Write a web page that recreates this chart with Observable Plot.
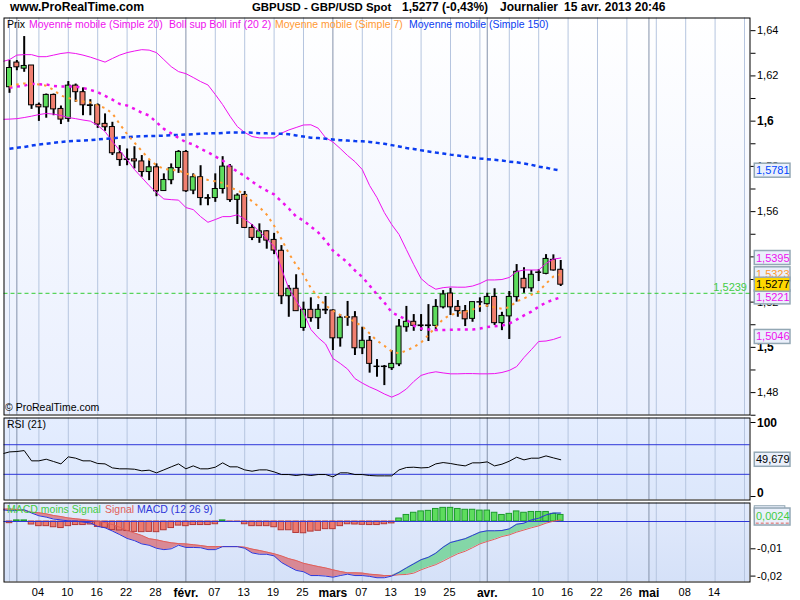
<!DOCTYPE html>
<html><head><meta charset="utf-8">
<script src="https://cdn.jsdelivr.net/npm/d3@7"></script>
<script src="https://cdn.jsdelivr.net/npm/@observablehq/plot@0.6"></script>
<style>
html,body{margin:0;padding:0;background:#fff}
#page{position:relative;width:800px;height:600px;overflow:hidden;background:#fff;font-family:"Liberation Sans",Arial,sans-serif}
.bg{position:absolute;left:4px;width:745px}
.t{position:absolute;white-space:nowrap;font-size:10.5px;line-height:13px}
.b{font-weight:bold;font-size:12px;color:#000}
#page svg{position:absolute;left:0;overflow:visible}
</style></head><body><div id="page">
<div class="bg" style="top:18px;height:396px;background:linear-gradient(#ffffff,#e9effe)"></div>
<div class="bg" style="top:418px;height:81px;background:linear-gradient(#e4edff,#dce7fb)"></div>
<div class="bg" style="top:503px;height:78px;background:linear-gradient(#e2eafc,#d5e1f8)"></div>
<div class="t b" style="left:10px;top:1px;font-size:12.2px">www.ProRealTime.com</div>
<div class="t b" style="left:252px;top:1px;font-size:11.4px">GBPUSD - GBP/USD Spot</div>
<div class="t b" style="left:402px;top:1px">1,5277 (-0,43%)</div>
<div class="t b" style="left:500px;top:1px">Journalier</div>
<div class="t b" style="left:564px;top:1px">15 avr. 2013 20:46</div>
<script>
const opens=[1.6150,1.6259,1.6232,1.6246,1.6072,1.6061,1.6116,1.6054,1.6010,1.6157,1.6128,1.6070,1.6070,1.5988,1.5974,1.5858,1.5831,1.5831,1.5822,1.5775,1.5796,1.5691,1.5739,1.5793,1.5864,1.5693,1.5752,1.5660,1.5660,1.5700,1.5799,1.5652,1.5674,1.5528,1.5484,1.5513,1.5475,1.5427,1.5226,1.5259,1.5086,1.5166,1.5129,1.5166,1.5163,1.5040,1.5133,1.5133,1.4996,1.5029,1.4915,1.4915,1.4908,1.4925,1.5089,1.5113,1.5097,1.5097,1.5095,1.5177,1.5238,1.5179,1.5160,1.5126,1.5200,1.5191,1.5223,1.5107,1.5137,1.5222,1.5303,1.5261,1.5331,1.5325,1.5387,1.5343];
const highs=[1.6268,1.6268,1.6374,1.6246,1.6080,1.6120,1.6120,1.6067,1.6175,1.6164,1.6147,1.6095,1.6076,1.6032,1.5995,1.5892,1.5877,1.5887,1.5848,1.5825,1.5811,1.5767,1.5811,1.5870,1.5870,1.5767,1.5803,1.5675,1.5767,1.5843,1.5808,1.5679,1.5689,1.5543,1.5546,1.5516,1.5504,1.5450,1.5273,1.5321,1.5200,1.5219,1.5189,1.5225,1.5166,1.5145,1.5203,1.5158,1.5089,1.5048,1.4946,1.4920,1.4986,1.5123,1.5181,1.5145,1.5145,1.5189,1.5211,1.5251,1.5261,1.5207,1.5185,1.5200,1.5219,1.5239,1.5259,1.5155,1.5247,1.5366,1.5352,1.5340,1.5343,1.5410,1.5409,1.5384];
const lows=[1.6123,1.6223,1.6216,1.6052,1.5999,1.6013,1.6024,1.5985,1.5995,1.6083,1.6024,1.6024,1.5968,1.5955,1.5848,1.5800,1.5803,1.5789,1.5752,1.5737,1.5666,1.5690,1.5719,1.5769,1.5685,1.5675,1.5626,1.5626,1.5641,1.5678,1.5641,1.5543,1.5525,1.5472,1.5460,1.5434,1.5410,1.5189,1.5133,1.5160,1.5071,1.5111,1.5079,1.5145,1.4986,1.5001,1.5093,1.4964,1.4968,1.4886,1.4868,1.4831,1.4898,1.4915,1.5067,1.5071,1.5071,1.5026,1.5071,1.5170,1.5141,1.5133,1.5092,1.5111,1.5155,1.5177,1.5097,1.5074,1.5035,1.5200,1.5239,1.5244,1.5291,1.5321,1.5337,1.5269];
const closes=[1.6235,1.6238,1.6244,1.6070,1.6061,1.6116,1.6052,1.6007,1.6157,1.6128,1.6070,1.6067,1.5985,1.5973,1.5858,1.5828,1.5828,1.5822,1.5775,1.5796,1.5690,1.5740,1.5792,1.5864,1.5690,1.5752,1.5660,1.5657,1.5700,1.5799,1.5651,1.5671,1.5528,1.5484,1.5513,1.5472,1.5428,1.5226,1.5259,1.5160,1.5166,1.5129,1.5166,1.5163,1.5040,1.5131,1.5131,1.4996,1.5029,1.4927,1.4913,1.4913,1.4927,1.5092,1.5113,1.5095,1.5094,1.5094,1.5179,1.5234,1.5177,1.5160,1.5124,1.5200,1.5198,1.5223,1.5107,1.5139,1.5223,1.5334,1.5261,1.5321,1.5329,1.5391,1.5340,1.5277];
const bollUpper=[1.6263,1.6272,1.6292,1.6294,1.6294,1.6285,1.6285,1.6292,1.6299,1.6303,1.6299,1.6292,1.6283,1.6272,1.6261,1.6277,1.6292,1.6303,1.6310,1.6316,1.6314,1.6303,1.6272,1.6241,1.6219,1.6210,1.6193,1.6175,1.6160,1.6118,1.6073,1.6022,1.5976,1.5950,1.5932,1.5926,1.5926,1.5926,1.5947,1.5961,1.5972,1.5983,1.5984,1.5969,1.5927,1.5908,1.5879,1.5848,1.5821,1.5786,1.5715,1.5662,1.5596,1.5543,1.5499,1.5432,1.5366,1.5304,1.5276,1.5257,1.5264,1.5267,1.5266,1.5266,1.5271,1.5282,1.5298,1.5298,1.5300,1.5309,1.5335,1.5342,1.5342,1.5342,1.5371,1.5390,1.5395];
const bollLower=[1.6008,1.6009,1.6011,1.6016,1.6022,1.6029,1.6034,1.6031,1.6025,1.6016,1.6011,1.6005,1.6000,1.5981,1.5954,1.5910,1.5870,1.5830,1.5786,1.5751,1.5715,1.5684,1.5656,1.5653,1.5651,1.5618,1.5609,1.5578,1.5553,1.5565,1.5578,1.5578,1.5586,1.5567,1.5543,1.5512,1.5479,1.5446,1.5348,1.5260,1.5207,1.5154,1.5079,1.5043,1.5015,1.4951,1.4929,1.4904,1.4862,1.4842,1.4825,1.4811,1.4794,1.4780,1.4794,1.4816,1.4849,1.4876,1.4886,1.4892,1.4887,1.4883,1.4883,1.4884,1.4884,1.4883,1.4883,1.4884,1.4889,1.4898,1.4915,1.4955,1.4990,1.5026,1.5028,1.5035,1.5046];
const ma20=[1.6148,1.6153,1.6157,1.6165,1.6163,1.6162,1.6156,1.6153,1.6153,1.6153,1.6147,1.6138,1.6128,1.6112,1.6095,1.6076,1.6069,1.6054,1.6037,1.6025,1.5995,1.5966,1.5946,1.5926,1.5907,1.5897,1.5878,1.5863,1.5844,1.5826,1.5799,1.5777,1.5757,1.5733,1.5711,1.5693,1.5676,1.5645,1.5614,1.5578,1.5561,1.5534,1.5508,1.5472,1.5428,1.5401,1.5375,1.5340,1.5311,1.5273,1.5234,1.5198,1.5155,1.5138,1.5123,1.5096,1.5083,1.5079,1.5077,1.5077,1.5078,1.5079,1.5079,1.5079,1.5083,1.5090,1.5093,1.5096,1.5105,1.5123,1.5141,1.5158,1.5180,1.5198,1.5211,1.5221];
const ma7=[1.6153,1.6162,1.6167,1.6165,1.6162,1.6157,1.6138,1.6113,1.6103,1.6091,1.6087,1.6083,1.6069,1.6058,1.6034,1.5987,1.5943,1.5905,1.5868,1.5832,1.5804,1.5789,1.5785,1.5782,1.5768,1.5762,1.5748,1.5740,1.5734,1.5727,1.5706,1.5695,1.5676,1.5645,1.5620,1.5587,1.5538,1.5479,1.5416,1.5364,1.5320,1.5262,1.5223,1.5185,1.5163,1.5143,1.5134,1.5111,1.5094,1.5061,1.5030,1.5007,1.4982,1.4973,1.4986,1.5001,1.5021,1.5055,1.5090,1.5125,1.5144,1.5151,1.5157,1.5167,1.5182,1.5185,1.5177,1.5170,1.5178,1.5203,1.5216,1.5232,1.5247,1.5282,1.5313,1.5323];
const ma150=[1.5878,1.5882,1.5886,1.5892,1.5897,1.5900,1.5904,1.5908,1.5911,1.5913,1.5914,1.5916,1.5919,1.5922,1.5924,1.5927,1.5929,1.5932,1.5933,1.5934,1.5935,1.5936,1.5938,1.5939,1.5941,1.5942,1.5944,1.5946,1.5946,1.5948,1.5950,1.5950,1.5950,1.5949,1.5947,1.5946,1.5945,1.5944,1.5942,1.5937,1.5932,1.5927,1.5925,1.5922,1.5919,1.5916,1.5914,1.5912,1.5911,1.5908,1.5904,1.5900,1.5894,1.5888,1.5881,1.5877,1.5871,1.5866,1.5861,1.5857,1.5852,1.5848,1.5844,1.5839,1.5835,1.5832,1.5829,1.5826,1.5821,1.5818,1.5813,1.5807,1.5799,1.5794,1.5787,1.5781];
const rsi=[57.6,60.3,60.8,62.1,48.2,48.2,50.4,47.3,44.1,53.6,51.8,48.2,48.2,44.6,44.1,38.7,37.4,37.4,36.9,34.7,35.6,32,36,40.1,44.1,37.4,41.4,37.4,37.4,39.6,45.5,40.1,40.1,36,34.2,36,36,33.3,29.7,29.7,28.4,29.7,28.4,29.7,29.7,26.6,32,32,29.7,29.7,28.4,27.9,27.9,27.9,36,39.2,39.6,38.7,39.2,44.1,45.9,44.6,42.8,41.4,45.5,45.5,46.8,41.4,43.7,47.7,53.1,49.5,51.8,51.8,54.9,52.2,49.679];
const macdLine=[.0043,.0040,.0040,.0043,.0031,.0021,.0016,.0009,.0006,.0002,.0002,-.0002,-.0005,-.0018,-.0023,-.0035,-.0048,-.0062,-.0070,-.0082,-.0087,-.0098,-.0103,-.0100,-.0087,-.0095,-.0095,-.0096,-.0103,-.0103,-.0092,-.0092,-.0092,-.0098,-.0115,-.0120,-.0120,-.0126,-.0150,-.0165,-.0179,-.0184,-.0198,-.0198,-.0200,-.0204,-.0198,-.0193,-.0198,-.0198,-.0201,-.0206,-.0206,-.0200,-.0186,-.0170,-.0155,-.0140,-.0131,-.0116,-.0094,-.0077,-.0070,-.0063,-.0051,-.0039,-.0034,-.0034,-.0033,-.0027,-.0010,-.0006,.0006,.0012,.0024,.0031,.0031];
const signalLine=[.0045,.0046,.0044,.0040,.0034,.0032,.0028,.0022,.0018,.0013,.0010,.0007,.0004,0,-.0004,-.0011,-.0021,-.0033,-.0042,-.0051,-.0063,-.0067,-.0073,-.0078,-.0081,-.0082,-.0085,-.0088,-.0092,-.0092,-.0092,-.0092,-.0092,-.0094,-.0101,-.0106,-.0112,-.0118,-.0126,-.0136,-.0143,-.0153,-.0159,-.0165,-.0170,-.0177,-.0183,-.0188,-.0188,-.0189,-.0193,-.0195,-.0198,-.0198,-.0195,-.0194,-.0189,-.0177,-.0167,-.0158,-.0145,-.0131,-.0118,-.0109,-.0096,-.0082,-.0073,-.0065,-.0055,-.0049,-.0039,-.0031,-.0023,-.0016,-.0006,.0001,.0006];
const macdHist=[-.0006,.0004,.0004,-.0011,-.0017,-.0017,-.0021,-.0024,-.0017,-.0013,-.0013,-.0011,-.0020,-.0023,-.0031,-.0033,-.0035,-.0038,-.0039,-.0038,-.0039,-.0032,-.0024,-.0015,-.0017,-.0013,-.0013,-.0013,-.0010,.0004,-.0001,-.0001,-.0010,-.0017,-.0017,-.0017,-.0021,-.0032,-.0032,-.0042,-.0043,-.0037,-.0034,-.0028,-.0028,-.0017,-.0010,-.0011,-.0012,-.0013,-.0013,-.0010,-.0007,.0011,.0024,.0032,.0037,.0039,.0046,.0050,.0050,.0046,.0043,.0043,.0040,.0040,.0032,.0024,.0028,.0037,.0032,.0035,.0035,.0035,.0028,.0024];
const lightGrid=[0,4,8,12,16,20,28,32,36,40,48,52,56,60,64,68,72,76,80,84,88,92,96,100];
const darkGrid=[1,24,44,65,87];
const dayTicks=[4,8,12,16,20,28,32,36,40,48,52,56,60,72,76,80,84,92,96];
const dayLabels=["04","10","16","22","28","07","13","19","25","07","13","19","25","10","16","22","26","08","14"];
const monthTicks=[24,44,65,87];
const monthLabels=["févr.","mars","avr.","mai"];
const priceTicks=[1.47,1.48,1.49,1.50,1.51,1.52,1.53,1.54,1.55,1.56,1.57,1.58,1.59,1.60,1.61,1.62,1.63,1.64];
const priceLabels=[1.48,1.52,1.54,1.56,1.58,1.62,1.64];
const priceBold=[1.5,1.6];
const level=1.5239;
const priceBoxes=[{v:1.5781,c:"#0044ff"},{v:1.5395,c:"#ee11ee"},{v:1.5323,c:"#ff9933"},{v:1.5221,c:"#ee11ee"},{v:1.5046,c:"#ee11ee"}];
const lastPrice=1.5277;

const FONT='"Liberation Sans",Arial,sans-serif';
const page=document.getElementById("page");
const comma=d=>String(d).replace(".",",");
const idx=opens.map((_,i)=>i);
const lineFrom=(arr,start)=>arr.map((v,k)=>({i:k+start,v}));
const XDOM=[-0.748,100.75], W=800, ML=3.5, MR=50.5;
const gridMarks=[
  Plot.ruleX(lightGrid,{stroke:"#b6c5df",strokeWidth:1}),
  Plot.ruleX(darkGrid,{stroke:"#8492aa",strokeWidth:1})
];
const boxX1=101.4, boxX2=106.26, boxCx=103.85;
function put(top,el){el.style.top=top+"px";page.appendChild(el);}
const style={background:"transparent",overflow:"visible",fontFamily:FONT,fontSize:"11px"};

const candles=idx.map(i=>({i,o:opens[i],h:highs[i],l:lows[i],c:closes[i]}));
const boxMark=(rows,fill)=>Plot.rect(rows,{x1:boxX1,x2:boxX2,y1:d=>d.v-7/2261,y2:d=>d.v+7/2261,fill,stroke:"#93a7b4",strokeWidth:1.5});

put(17,Plot.plot({width:W,height:398,marginLeft:ML,marginRight:MR,marginTop:.5,marginBottom:.5,style,
  x:{domain:XDOM,axis:null},
  y:{domain:[1.4701,1.6456],axis:null},
  marks:[
    ...gridMarks,
    Plot.ruleY([level],{stroke:"#33cc33",strokeWidth:1,strokeDasharray:"4,3"}),
    Plot.ruleX(candles,{x:"i",y1:"l",y2:"h",stroke:"#000",strokeWidth:2}),
    Plot.rect(candles,{x1:d=>d.i-.34,x2:d=>d.i+.34,y1:"o",y2:"c",fill:d=>d.c>=d.o?"#5ddc5d":"#f07f70",stroke:"#000",strokeWidth:1}),
    Plot.line(lineFrom(bollUpper,-1),{x:"i",y:"v",stroke:"#ee11ee",strokeWidth:1,clip:true}),
    Plot.line(lineFrom(bollLower,-1),{x:"i",y:"v",stroke:"#ee11ee",strokeWidth:1,clip:true}),
    Plot.line(lineFrom(ma150,0),{x:"i",y:"v",stroke:"#0a3cf0",strokeWidth:2.5,strokeDasharray:"4,3.5",strokeLinecap:"butt",strokeLinejoin:"miter"}),
    Plot.line(lineFrom(ma20,0),{x:"i",y:"v",stroke:"#ee11ee",strokeWidth:2.5,strokeDasharray:"3,4.5",strokeLinecap:"butt",strokeLinejoin:"miter"}),
    Plot.line(lineFrom(ma7,0),{x:"i",y:"v",stroke:"#ff9933",strokeWidth:2,strokeDasharray:"2.5,4.5",strokeLinecap:"butt",strokeLinejoin:"miter"}),
    Plot.frame({stroke:"#000",strokeWidth:1}),
    Plot.axisY({anchor:"right",ticks:priceTicks,tickSize:5,tickPadding:2,label:null,tickFormat:d=>priceLabels.includes(d)?comma(d):"",fontSize:11,stroke:"#000",color:"#000"}),
    Plot.text(priceBold,{x:XDOM[1],y:d=>d,dx:7,text:comma,textAnchor:"start",fontWeight:"bold",fontSize:12,fill:"#000"}),
    Plot.text([level],{x:XDOM[1],y:d=>d,dx:-3,dy:-6,text:comma,textAnchor:"end",fill:"#44cc44",fontSize:11}),
    boxMark(priceBoxes,"#eaf0fb"),
    Plot.text(priceBoxes,{x:boxCx,y:"v",text:d=>comma(d.v),fill:"c",fontSize:11}),
    boxMark([{v:lastPrice}],"#ffd800"),
    Plot.text([lastPrice],{x:boxCx,y:d=>d,text:comma,fill:"#000",fontSize:11})
  ]}));

put(417,Plot.plot({width:W,height:83,marginLeft:ML,marginRight:MR,marginTop:.5,marginBottom:.5,style,
  x:{domain:XDOM,axis:null},
  y:{domain:[-4.7,106.1],axis:null},
  marks:[
    ...gridMarks,
    Plot.ruleY([70,30],{stroke:"#2e36d8",strokeWidth:1}),
    Plot.line(lineFrom(rsi,-1),{x:"i",y:"v",stroke:"#000",strokeWidth:1,clip:true}),
    Plot.frame({stroke:"#000",strokeWidth:1}),
    Plot.axisY({anchor:"right",ticks:[0,100],tickSize:5,tickPadding:2,label:null,tickFormat:d=>"",stroke:"#000"}),
    Plot.text([100],{x:XDOM[1],y:d=>d,dx:7,dy:1,text:d=>String(d),textAnchor:"start",fontWeight:"bold",fontSize:12,fill:"#000"}),
    Plot.text([0],{x:XDOM[1],y:d=>d,dx:7,dy:-3,text:d=>String(d),textAnchor:"start",fontWeight:"bold",fontSize:12,fill:"#000"}),
    Plot.rect([rsi[rsi.length-1]],{x1:boxX1,x2:boxX2,y1:d=>d-9.5,y2:d=>d+9.5,fill:"#eaf0fb",stroke:"#93a7b4",strokeWidth:1.5}),
    Plot.text([rsi[rsi.length-1]],{x:boxCx,y:d=>d,text:d=>comma(d),fill:"#000",fontSize:11})
  ]}));

const histRows=macdHist.map((v,i)=>({i,v}));
const macdRows=macdLine.map((m,k)=>({i:k-1,m,s:signalLine[k]}));
const lastHist=macdHist[macdHist.length-1];
put(502,Plot.plot({width:W,height:98,marginLeft:ML,marginRight:MR,marginTop:.5,marginBottom:18.5,style,
  x:{domain:XDOM,axis:null},
  y:{domain:[-.02216,.00678],axis:null},
  marks:[
    ...gridMarks,
    Plot.areaY(macdRows,{x:"i",y1:"m",y2:d=>Math.max(d.m,d.s),fill:"#d8575f",fillOpacity:.65,clip:true}),
    Plot.areaY(macdRows,{x:"i",y1:"s",y2:d=>Math.max(d.m,d.s),fill:"#3ccb62",fillOpacity:.55,clip:true}),
    Plot.rectY(histRows,{x1:d=>d.i-.38,x2:d=>d.i+.38,y1:0,y2:"v",fill:d=>d.v>=0?"#5ddc5d":"#ec7a6e",stroke:d=>d.v>=0?"#1c9a2c":"#b23a3a",strokeWidth:1}),
    Plot.ruleY([0],{stroke:"#2e36d8",strokeWidth:1}),
    Plot.line(macdRows,{x:"i",y:"s",stroke:"#e0605a",strokeWidth:1,clip:true}),
    Plot.line(macdRows,{x:"i",y:"m",stroke:"#2e36d8",strokeWidth:1,clip:true}),
    Plot.frame({stroke:"#000",strokeWidth:1}),
    Plot.axisY({anchor:"right",ticks:[-.01,-.02],tickSize:5,tickPadding:2,label:null,tickFormat:comma,fontSize:11,stroke:"#000",color:"#000"}),
    Plot.rect([lastHist],{x1:boxX1,x2:boxX2-.7,y1:.003,y2:.0056,fill:"#eaf0fb",stroke:"#93a7b4",strokeWidth:1}),
    Plot.rect([lastHist],{x1:boxX1,x2:boxX2,y1:-.00147,y2:.00476,fill:"#eaf0fb",stroke:"#93a7b4",strokeWidth:1.5}),
    Plot.ruleY([signalLine[signalLine.length-1]*-1],{x1:boxX1+.2,x2:boxX2,stroke:"#e0605a",strokeDasharray:"3,2"}),
    Plot.text([lastHist],{x:boxCx,y:.0017,text:d=>comma(d),fill:"#44cc44",fontSize:11}),
    Plot.axisX({anchor:"bottom",ticks:dayTicks,tickSize:0,tickPadding:6,dx:-1,label:null,tickFormat:d=>dayLabels[dayTicks.indexOf(d)],fontSize:11,color:"#000"}),
    Plot.axisX({anchor:"bottom",ticks:monthTicks,tickSize:0,tickPadding:6,label:null,tickFormat:d=>monthLabels[monthTicks.indexOf(d)],fontSize:12,fontWeight:"bold",color:"#000"})
  ]}));

const labels=[
  ["Prix",7,18,"#000"],["Moyenne mobile (Simple 20)",29,18,"#ee11ee"],["Boll sup Boll inf (20 2)",169,18,"#ee11ee"],
  ["Moyenne mobile (Simple 7)",275,18,"#ff9933"],["Moyenne mobile (Simple 150)",409,18,"#0a3cf0"],
  ["© ProRealTime.com",5,401,"#000"],["RSI (21)",7,418,"#000"],
  ["MACD moins Signal",7,503,"#44cc44"],["Signal",105,503,"#e0605a"],["MACD (12 26 9)",137,503,"#2e36d8"]
];
for(const [s,l,t,c] of labels){const e=document.createElement("div");e.className="t";e.textContent=s;e.style.cssText=`left:${l}px;top:${t}px;color:${c};z-index:5`;page.appendChild(e);}
</script>
</div></body></html>
